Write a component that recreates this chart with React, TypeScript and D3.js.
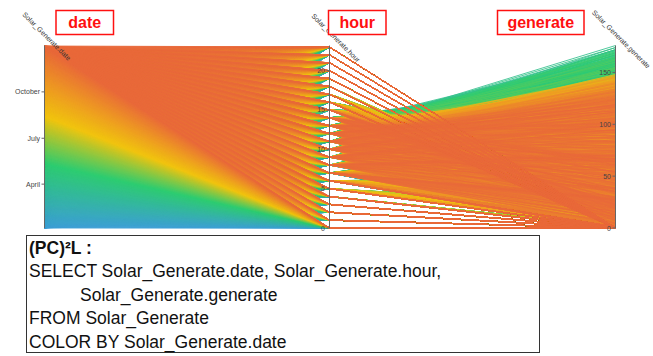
import React, { useMemo } from "react";
import * as d3 from "d3";

// ---- data ---------------------------------------------------------------
// Observation period of the Solar_Generate table (one record per day and hour)
const dateStart = "2015-01-04";
const dateEnd = "2015-12-31";

const hours = [0, 1, 2, 3, 4, 5, 6, 7, 8, 9, 10, 11, 12, 13, 14, 15, 16, 17, 18, 19, 20, 21, 22, 23];

// Clear-sky hourly generation for each month (hour 0 .. 23)
const genJan = [0, 0, 0, 0, 0, 0, 0, 4, 35, 80, 112, 130, 136, 126, 102, 64, 20, 0, 0, 0, 0, 0, 0, 0];
const genFeb = [0, 0, 0, 0, 0, 0, 0, 12, 52, 98, 132, 150, 156, 146, 122, 84, 36, 3, 0, 0, 0, 0, 0, 0];
const genMar = [0, 0, 0, 0, 0, 0, 4, 28, 72, 116, 148, 164, 168, 158, 136, 98, 52, 12, 0, 0, 0, 0, 0, 0];
const genApr = [0, 0, 0, 0, 0, 2, 14, 44, 90, 132, 160, 174, 176, 166, 144, 108, 64, 22, 2, 0, 0, 0, 0, 0];
const genMay = [0, 0, 0, 0, 1, 18, 50, 92, 128, 152, 164, 172, 170, 160, 138, 106, 68, 30, 6, 0, 0, 0, 0, 0];
const genJun = [0, 0, 0, 0, 2, 22, 48, 82, 110, 132, 143, 148, 147, 140, 122, 96, 64, 32, 8, 0, 0, 0, 0, 0];
const genJul = [0, 0, 0, 0, 1, 20, 46, 80, 108, 128, 138, 142, 141, 134, 118, 94, 62, 30, 7, 0, 0, 0, 0, 0];
const genAug = [0, 0, 0, 0, 0, 12, 40, 78, 108, 128, 136, 140, 138, 130, 114, 88, 52, 20, 2, 0, 0, 0, 0, 0];
const genSep = [0, 0, 0, 0, 0, 4, 30, 72, 110, 134, 145, 148, 146, 136, 112, 76, 36, 6, 0, 0, 0, 0, 0, 0];
const genOct = [0, 0, 0, 0, 0, 0, 18, 60, 100, 128, 142, 146, 142, 128, 98, 58, 14, 0, 0, 0, 0, 0, 0, 0];
const genNov = [0, 0, 0, 0, 0, 0, 6, 44, 88, 118, 134, 140, 134, 114, 80, 34, 3, 0, 0, 0, 0, 0, 0, 0];
const genDec = [0, 0, 0, 0, 0, 0, 1, 30, 74, 106, 124, 132, 126, 104, 68, 24, 1, 0, 0, 0, 0, 0, 0, 0];
const clearSkyByMonth = [genJan, genFeb, genMar, genApr, genMay, genJun, genJul, genAug, genSep, genOct, genNov, genDec];

// Sky clearness for each day of the month (1st .. 31st)
const dayClearness = [
  0.98, 0.92, 0.55, 0.22, 0.74, 1.0, 0.95, 0.86, 0.41, 0.12, 0.66, 0.97, 0.9, 0.78, 0.33, 0.6,
  0.99, 0.93, 0.83, 0.48, 0.18, 0.71, 0.96, 0.88, 0.63, 0.28, 0.8, 0.94, 0.52, 0.37, 0.9,
];

// Axis ticks
const dateTickValues = ["2015-04-01", "2015-07-01", "2015-10-01"];
const dateTickLabels = ["April", "July", "October"];
const hourTicks = [0, 5, 10, 15, 20];
const generateTicks = [0, 50, 100, 150];
const generateMax = 176;

// Colour ramp along the date dimension
const colorStopDates = ["2015-01-04", "2015-05-12", "2015-08-14", "2015-12-31"];
const colorStops = ["#3d9fd6", "#2ecc71", "#f1c40f", "#e9683a"];

// Dimension headers
const dimensionTitles = ["Solar_Generate.date", "Solar_Generate.hour", "Solar_Generate.generate"];
const dimensionTags = ["date", "hour", "generate"];

// Query text
const queryLines = [
  "SELECT Solar_Generate.date, Solar_Generate.hour,",
  "Solar_Generate.generate",
  "FROM Solar_Generate",
  "COLOR BY Solar_Generate.date",
];

// ---- layout -------------------------------------------------------------
const W = 653;
const H = 356;
const axisX = [44.5, 329.5, 615.5];
const yBottom = 228;
const tickFont = "'Liberation Sans', Arial, sans-serif";

const parse = d3.timeParse("%Y-%m-%d");

export default function App() {
  const { paths, yDate, yHour, yGen } = useMemo(() => {
    const start = parse(dateStart)!;
    const end = parse(dateEnd)!;
    const yDate = d3.scaleTime().domain([start, end]).range([yBottom, 46]);
    const yHour = d3.scaleLinear().domain([0, 23]).range([yBottom, 47]);
    const yGen = d3.scaleLinear().domain([0, generateMax]).range([yBottom, 45.5]);
    const color = d3
      .scaleTime<string>()
      .domain(colorStopDates.map((s) => parse(s)!))
      .range(colorStops)
      .interpolate(d3.interpolateRgb)
      .clamp(true);

    const dates = d3.timeDay.range(start, d3.timeDay.offset(end, 1));
    const line = d3.line<[number, number]>();

    const paths = dates.map((date) => {
      const profile = clearSkyByMonth[date.getMonth()];
      const k = dayClearness[date.getDate() - 1];
      const d = hours
        .map((h) => {
          const g = Math.round(profile[h] * k);
          return line([
            [axisX[0], yDate(date)],
            [axisX[1], yHour(h)],
            [axisX[2], yGen(g)],
          ]);
        })
        .join("");
      return { key: date.getTime(), d, stroke: color(date) };
    });
    return { paths, yDate, yHour, yGen };
  }, []);

  const tickLabel = (x: number, y: number, label: string, key: string) => (
    <g key={key}>
      <line x1={x - 3} x2={x} y1={y} y2={y} stroke="#666" strokeWidth={1} />
      <text
        x={x - 4.5}
        y={y}
        textAnchor="end"
        dominantBaseline="central"
        fontSize={7}
        fontFamily={tickFont}
        fill="#444"
      >
        {label}
      </text>
    </g>
  );

  const tagBoxes = [
    { x: 56, w: 57.5 },
    { x: 328.5, w: 57.5 },
    { x: 497.5, w: 86.5 },
  ];
  const titleStarts: [number, number][] = [
    [22, 15],
    [311, 16.5],
    [591.5, 13],
  ];

  return (
    <svg
      width={W}
      height={H}
      viewBox={`0 0 ${W} ${H}`}
      style={{ position: "absolute", left: 0, top: 0, background: "#fff" }}
    >
      {/* polylines, one per record, grouped per day */}
      <g fill="none" strokeWidth={1} strokeOpacity={0.85}>
        {paths.map((p) => (
          <path key={p.key} d={p.d} stroke={p.stroke} />
        ))}
      </g>

      {/* axes */}
      {axisX.map((x, i) => (
        <line key={`ax${i}`} x1={x} x2={x} y1={45.5} y2={yBottom} stroke="#666" strokeWidth={1} />
      ))}
      {dateTickValues.map((v, i) => tickLabel(axisX[0], yDate(parse(v)!), dateTickLabels[i], `dt${i}`))}
      {hourTicks.map((v) => tickLabel(axisX[1], yHour(v), String(v), `ht${v}`))}
      {generateTicks.map((v) => tickLabel(axisX[2], yGen(v), String(v), `gt${v}`))}

      {/* rotated dimension titles */}
      {dimensionTitles.map((t, i) => (
        <text
          key={t}
          transform={`translate(${titleStarts[i][0]},${titleStarts[i][1]}) rotate(45)`}
          fontSize={7}
          fontFamily={tickFont}
          fill="#333"
        >
          {t}
        </text>
      ))}

      {/* red dimension tags */}
      {dimensionTags.map((t, i) => (
        <g key={t}>
          <rect
            x={tagBoxes[i].x}
            y={10.5}
            width={tagBoxes[i].w}
            height={24}
            fill="#fff"
            stroke="#ff1010"
            strokeWidth={1.5}
          />
          <text
            x={tagBoxes[i].x + tagBoxes[i].w / 2}
            y={28}
            textAnchor="middle"
            fontSize={16}
            fontWeight="bold"
            fontFamily="'Liberation Sans', Arial, sans-serif"
            fill="#ff1010"
          >
            {t}
          </text>
        </g>
      ))}

      {/* query box */}
      <rect x={26.5} y={235.5} width={513} height={117} fill="#fff" stroke="#333" strokeWidth={1} />
      <g fontFamily="'Liberation Sans', Arial, sans-serif" fontSize={17.5} fill="#111">
        <text x={29} y={254} fontWeight="bold">
          (PC)²L :
        </text>
        <text x={29} y={277.3}>{queryLines[0]}</text>
        <text x={80} y={301}>{queryLines[1]}</text>
        <text x={29} y={324.3}>{queryLines[2]}</text>
        <text x={29} y={347.7}>{queryLines[3]}</text>
      </g>
    </svg>
  );
}
